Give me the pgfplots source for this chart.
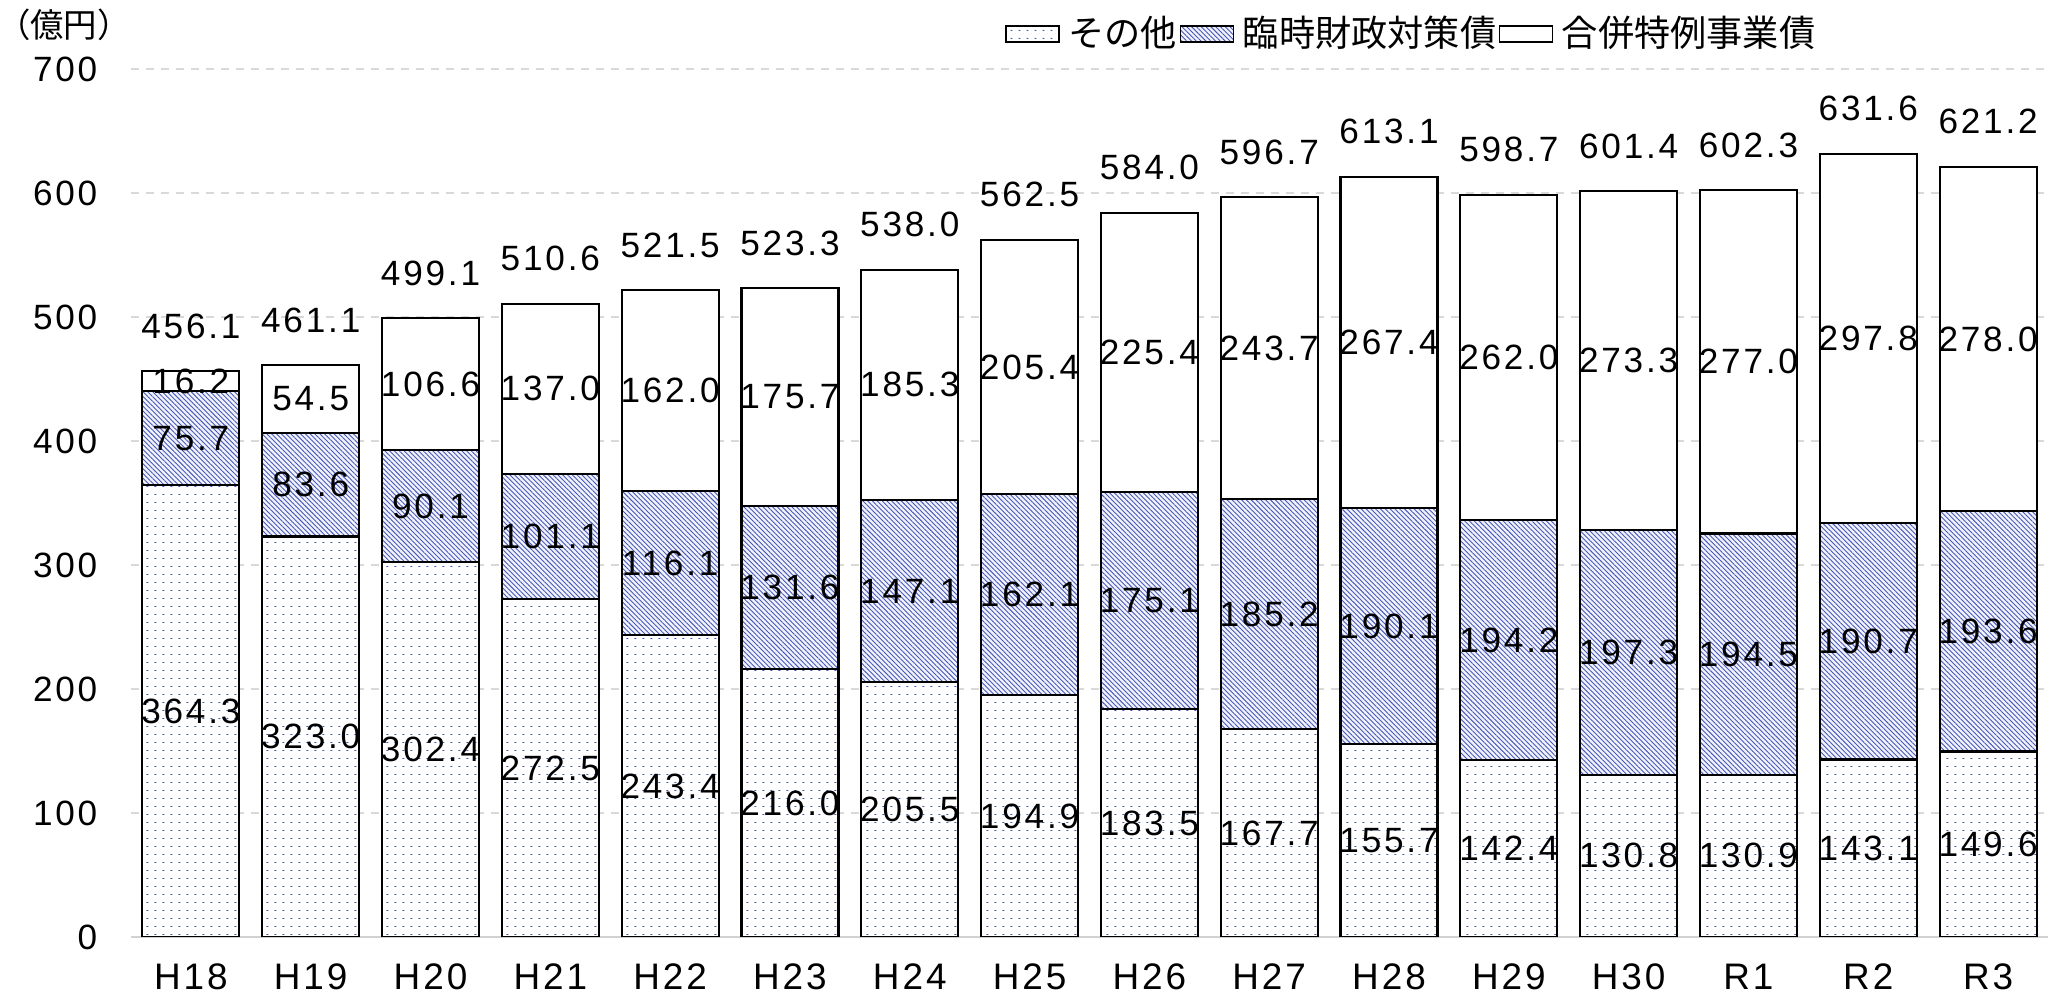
\documentclass[border=0pt]{standalone}
\usepackage{pgfplots}
\pgfplotsset{compat=1.18}
\usepackage{pgfplotstable}
\usepackage{fontspec}
\setmainfont{Liberation Sans}[LetterSpace=8]
\newfontfamily\jp{Noto Sans CJK JP}
\usetikzlibrary{patterns.meta}

\definecolor{hatchblue}{RGB}{70,90,180}
\definecolor{dotblue}{RGB}{70,90,190}

\pgfdeclarepattern{
  name=sdots, type=uncolored,
  bottom left={\pgfpoint{0mm}{0mm}},
  top right={\pgfpoint{0.8mm}{0.8mm}},
  tile size={\pgfpoint{0.8mm}{0.8mm}},
  code={\pgfpathrectangle{\pgfpoint{0.28mm}{0.35mm}}{\pgfpoint{0.2mm}{0.09mm}}\pgfusepath{fill}}
}

\pgfplotstableread{
x other rinji gappei total
0 364.3 75.7 16.2 456.1
1 323.0 83.6 54.5 461.1
2 302.4 90.1 106.6 499.1
3 272.5 101.1 137.0 510.6
4 243.4 116.1 162.0 521.5
5 216.0 131.6 175.7 523.3
6 205.5 147.1 185.3 538.0
7 194.9 162.1 205.4 562.5
8 183.5 175.1 225.4 584.0
9 167.7 185.2 243.7 596.7
10 155.7 190.1 267.4 613.1
11 142.4 194.2 262.0 598.7
12 130.8 197.3 273.3 601.4
13 130.9 194.5 277.0 602.3
14 143.1 190.7 297.8 631.6
15 149.6 193.6 278.0 621.2
}\data

\pgfplotsset{
  boxlegend/.style={legend image code/.code={\draw[##1, line width=0.5pt] (0mm,-0.8mm) rectangle (5.3mm,0.8mm);}},
  seglabel/.style={
    nodes near coords, point meta=explicit symbolic,
    nodes near coords style={anchor=center, inner sep=0pt, text=black,
      font=\fontsize{10}{12}\selectfont},
  },
  common/.style={
    width=191.7mm, height=86.8mm, scale only axis,
    xmin=-0.5, xmax=15.5, ymin=0, ymax=700,
  },
}

\begin{document}
\begin{tikzpicture}
\begin{axis}[
  common,
  ybar stacked,
  bar width=9.7mm,
  xtick={0,...,15},
  xticklabels={H18,H19,H20,H21,H22,H23,H24,H25,H26,H27,H28,H29,H30,R1,R2,R3},
  ytick={0,100,...,700},
  major tick length=0,
  axis x line*=bottom, axis y line*=left,
  x axis line style={-, draw=gray!35, line width=0.27mm},
  y axis line style={draw=none},
  ymajorgrids,
  major grid style={dash pattern=on 0.8mm off 0.7mm, draw=gray!30, line width=0.25mm},
  /pgf/number format/assume math mode=true,
  yticklabel style={anchor=east, inner sep=0pt, xshift=-3.3mm, font=\fontsize{10}{12}\selectfont},
  xticklabel style={anchor=north, inner sep=0pt, yshift=-2.6mm, font=\fontsize{10.5}{12}\selectfont},
  ylabel={\jp （億円）},
  every axis y label/.style={at={(axis description cs:0,1)}, anchor=center, xshift=-6.7mm, yshift=4.4mm, font=\fontsize{9.5}{11}\selectfont},
  legend style={at={(0.668,1.040)}, anchor=center, draw=none, fill=none,
    legend columns=3, font=\jp\fontsize{10.3}{12}\selectfont,
    /tikz/every odd column/.append style={column sep=0.6mm},
    nodes={inner sep=0.25mm}},
]
\addplot[boxlegend, draw=black, line width=0.6pt, fill=white,
  postaction={pattern=sdots, pattern color=dotblue},
  seglabel] table[x=x, y=other, meta=other] {\data};
\addlegendentry{その他}
\addplot[boxlegend, draw=black, line width=0.6pt, fill=blue!5!white,
  postaction={pattern={Lines[angle=-45, distance=0.34mm, line width=0.09mm]}, pattern color=hatchblue},
  seglabel] table[x=x, y=rinji, meta=rinji] {\data};
\addlegendentry{臨時財政対策債}
\addplot[boxlegend, draw=black, line width=0.6pt, fill=white,
  seglabel] table[x=x, y=gappei, meta=gappei] {\data};
\addlegendentry{合併特例事業債}
\end{axis}
\begin{axis}[common, hide axis]
\addplot[only marks, mark=none,
  nodes near coords, point meta=explicit symbolic,
  nodes near coords style={anchor=center, inner sep=0pt, text=black, yshift=4.5mm,
    font=\fontsize{10}{12}\selectfont}]
  table[x=x, y=total, meta=total] {\data};
\end{axis}
\pgfresetboundingbox
\path ([shift={(-13.1mm,-5.7mm)}]current axis.south west) rectangle ([shift={(2.1mm,6.9mm)}]current axis.north east);
\end{tikzpicture}
\end{document}
